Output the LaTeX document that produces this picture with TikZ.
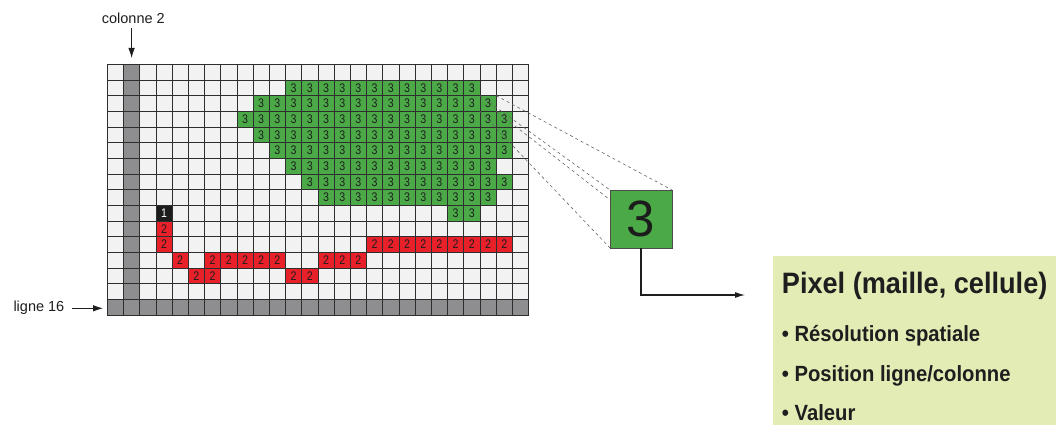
\documentclass[tikz,border=0pt]{standalone}
\usepackage{fontspec}
\setmainfont{Liberation Sans}
\newfontfamily\condfont[FakeStretch=0.92]{Liberation Sans}
\newfontfamily\narrowfont[FakeStretch=0.85]{Liberation Sans}
\usetikzlibrary{arrows.meta}
\definecolor{cellbg}{HTML}{F2F2F2}
\definecolor{cellgray}{HTML}{8E8E90}
\definecolor{pxgreen}{HTML}{4BAA47}
\definecolor{pxred}{HTML}{E8202A}
\definecolor{pxblack}{HTML}{1C1C1C}
\definecolor{infobg}{HTML}{E4ECB6}
\definecolor{gridline}{HTML}{2E2E2E}
\definecolor{inkdark}{HTML}{1E1E1E}
\tikzset{
  gridl/.style={draw=gridline, line width=0.6pt},
  celltext/.style={inner sep=0pt, font=\narrowfont\fontsize{12.5}{12.5}\selectfont, text=inkdark},
  zoomline/.style={draw=gray!80!black, line width=0.6pt, dash pattern=on 3pt off 3pt},
  bigpx/.style={fill=pxgreen, draw=gray!60!black, line width=0.8pt, minimum width=62pt, minimum height=58pt, inner sep=0pt, font=\fontsize{51}{51}\selectfont, text=pxblack},
  conn/.style={draw=inkdark, line width=1.1pt, -{Latex[length=10pt,width=6pt]}},
  labarrow/.style={draw=inkdark, line width=0.8pt, -{Latex[length=10pt,width=6.5pt]}},
  lab/.style={inner sep=0pt, font=\fontsize{14.5}{16}\selectfont, text=inkdark},
  infobox/.style={fill=infobg, inner sep=0pt, minimum width=283.3pt, minimum height=169pt, anchor=north west},
  infotitle/.style={inner sep=0pt, anchor=base west, font=\condfont\bfseries\fontsize{29.5}{32}\selectfont, text=inkdark},
  infoitem/.style={inner sep=0pt, anchor=base west, font=\condfont\bfseries\fontsize{22}{24}\selectfont, text=inkdark}
}
\begin{document}
\begin{tikzpicture}[x=1pt,y=-1pt]
\useasboundingbox (0,0) rectangle (1056,425);
\fill[white] (0,0) rectangle (1056,425);
% ---------------- grid ----------------
\begin{scope}[shift={(107.3,64.3)}, x=16.2pt, y=-15.67pt]
  \fill[cellbg] (0,0) rectangle (26,16);
  \fill[cellgray] (1,0) rectangle (2,16);
  \fill[cellgray] (0,15) rectangle (26,16);
  % green cells
  \foreach \r/\a/\b in {2/12/23, 3/10/24, 4/9/25, 5/10/25, 6/11/25, 7/12/24, 8/13/25, 9/14/24, 10/22/23}{
    \foreach \c in {\a,...,\b}{
      \fill[pxgreen] (\c-1,\r-1) rectangle (\c,\r);
      \node[celltext] (g-\c-\r) at (\c-0.5,\r-0.5) {3};
    }
  }
  % red cells
  \foreach \c/\r in {4/11, 4/12, 17/12, 18/12, 19/12, 20/12, 21/12, 22/12, 23/12, 24/12, 25/12,
                     5/13, 7/13, 8/13, 9/13, 10/13, 11/13, 14/13, 15/13, 16/13,
                     6/14, 7/14, 12/14, 13/14}{
    \fill[pxred] (\c-1,\r-1) rectangle (\c,\r);
    \node[celltext] (r-\c-\r) at (\c-0.5,\r-0.5) {2};
  }
  % black cell
  \fill[pxblack] (3,9) rectangle (4,10);
  \node[celltext, text=white] (b-4-10) at (3.5,9.5) {1};
  % grid lines
  \foreach \c in {0,...,26} \draw[gridl] (\c,0) -- (\c,16);
  \foreach \r in {0,...,16} \draw[gridl] (0,\r) -- (26,\r);
  % corners of the magnified cell (row 3, column 24)
  \coordinate (cTL) at (23,2);
  \coordinate (cTR) at (24,2);
  \coordinate (cBL) at (23,3);
  \coordinate (cBR) at (24,3);
\end{scope}
% ---------------- magnified pixel ----------------
\coordinate (bNW) at (610,190);
\coordinate (bNE) at (672,190);
\coordinate (bSW) at (610,248);
\coordinate (bSE) at (672,248);
\draw[zoomline] (cTL) -- (bNW);
\draw[zoomline] (cTR) -- (bNE);
\draw[zoomline] (cBL) -- (bSW);
\draw[zoomline] (cBR) -- (bSE);
\node[bigpx] (big) at (641,219) {3};
% ---------------- info box ----------------
\node[infobox] (info) at (772.7,256) {};
\node[infotitle] (title) at (781.7,293.3) {Pixel (maille, cellule)};
\node[infoitem] (it1) at (781.7,341.7) {• Résolution spatiale};
\node[infoitem] (it2) at (781.7,381.7) {• Position ligne/colonne};
\node[infoitem] (it3) at (781.7,420) {• Valeur};
\coordinate (arrEnd) at (745,295);
\draw[conn] (big.south) |- (arrEnd);
% ---------------- labels ----------------
\node[lab, anchor=base west] (colL) at (101.7,24) {colonne 2};
\coordinate (c2) at (131.6,58);
\draw[labarrow] ([yshift=-4pt]colL.south -| c2) -- (c2);
\node[lab, anchor=base west] (ligL) at (13.3,311.5) {ligne 16};
\coordinate (l16) at (103,308.3);
\draw[labarrow] ([xshift=8pt]ligL.east |- l16) -- (l16);
\end{tikzpicture}
\end{document}
